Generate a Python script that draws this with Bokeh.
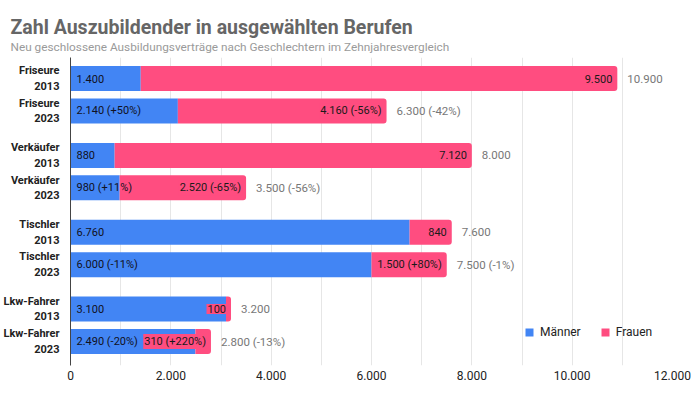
from bokeh.plotting import figure
from bokeh.models import Range1d, FixedTicker, ColumnDataSource, Title, Legend, LegendItem
from bokeh.core.properties import value
from bokeh.embed import file_html
from bokeh.resources import INLINE

jobs = ["Friseure", "Friseure", "Verkäufer", "Verkäufer", "Tischler", "Tischler", "Lkw-Fahrer", "Lkw-Fahrer"]
years = ["2013", "2023", "2013", "2023", "2013", "2023", "2013", "2023"]
men = [1400, 2140, 880, 980, 6760, 6000, 3100, 2490]
women = [9500, 4160, 7120, 2520, 840, 1500, 100, 310]
totals = [10900, 6300, 8000, 3500, 7600, 7500, 3200, 2800]
men_change = ["", "+50%", "", "+11%", "", "-11%", "", "-20%"]
women_change = ["", "-56%", "", "-65%", "", "+80%", "", "+220%"]
total_change = ["", "-42%", "", "-56%", "", "-1%", "", "-13%"]
x_ticks = [0, 2000, 4000, 6000, 8000, 10000, 12000]

BLUE = "#4285F4"
PINK = "#FF4D80"
FONT = "Roboto"
GROUP_PITCH = 2.37
Y_START, Y_END = -8.85, 0.65


def de(n):
    return f"{n:,}".replace(",", ".")


def lab(n, c):
    return de(n) + (f" ({c})" if c else "")


ys = [-((i // 2) * GROUP_PITCH + (i % 2)) for i in range(len(jobs))]

src = ColumnDataSource(dict(
    y=ys,
    men=men,
    total=totals,
    men_lab=[lab(m, c) for m, c in zip(men, men_change)],
    women_lab=[lab(w, c) for w, c in zip(women, women_change)],
    tot_lab=[lab(t, c) for t, c in zip(totals, total_change)],
))

p = figure(width=700, height=405, output_backend="svg", toolbar_location=None,
           x_range=Range1d(0, 12000), y_range=Range1d(Y_START, Y_END),
           min_border_left=69, min_border_right=28, min_border_bottom=40, min_border_top=57)
p.outline_line_color = None

r_m = p.hbar(y="y", left=0, right="men", height=0.77, source=src, fill_color=BLUE, line_color=None)
r_w = p.hbar(y="y", left="men", right="total", height=0.77, source=src, fill_color=PINK, line_color=None,
             border_radius=(0, 3, 3, 0))

p.text(x=0, y="y", text="men_lab", source=src, x_offset=6, text_align="left", text_baseline="middle",
       text_font=value(FONT), text_font_size="11px", text_color="#111122")
p.text(x="total", y="y", text="women_lab", source=src, x_offset=-4, text_align="right", text_baseline="middle",
       text_font=value(FONT), text_font_size="11px", text_color="#1a1a1a",
       background_fill_color=PINK, padding=1)
p.text(x="total", y="y", text="tot_lab", source=src, x_offset=10, text_align="left", text_baseline="middle",
       text_font=value(FONT), text_font_size="11.5px", text_color="#777777")

p.xaxis.ticker = FixedTicker(ticks=x_ticks)
p.xaxis.major_label_overrides = {t: de(t) for t in x_ticks}
p.xaxis.axis_line_color = None
p.xaxis.major_tick_line_color = None
p.xaxis.minor_tick_line_color = None
p.xaxis.major_label_text_font = FONT
p.xaxis.major_label_text_font_size = "12px"
p.xaxis.major_label_text_color = "#222222"
p.xaxis.major_label_standoff = -1

p.yaxis.ticker = FixedTicker(ticks=ys)
p.yaxis.major_label_overrides = {y: f"{j}\n{yr}" for y, j, yr in zip(ys, jobs, years)}
p.yaxis.axis_line_color = "#444444"
p.yaxis.major_tick_line_color = None
p.yaxis.minor_tick_line_color = None
p.yaxis.major_label_text_font = FONT
p.yaxis.major_label_text_font_size = "11px"
p.yaxis.major_label_text_font_style = "bold"
p.yaxis.major_label_text_color = "#222222"
p.yaxis.major_label_standoff = 5
p.yaxis.major_label_text_align = "right"

p.xgrid.ticker = FixedTicker(ticks=list(range(0, 12001, 1000)))
p.xgrid.grid_line_color = "#e6e6e6"
p.ygrid.grid_line_color = None

legend = Legend(items=[LegendItem(label="Männer", renderers=[r_m]),
                       LegendItem(label="Frauen", renderers=[r_w])],
                orientation="horizontal", location=(454, 26),
                glyph_width=10, glyph_height=10, spacing=19, padding=0, margin=0,
                label_text_font=FONT, label_text_font_size="12px", label_text_color="#222222",
                label_standoff=6, border_line_color=None, background_fill_alpha=0)
p.add_layout(legend, "center")

p.add_layout(Title(text="Neu geschlossene Ausbildungsverträge nach Geschlechtern im Zehnjahresvergleich",
                   text_font=FONT, text_font_size="11.8px", text_font_style="normal",
                   text_color="#9a9a9a", offset=-60, standoff=7), "above")
p.add_layout(Title(text="Zahl Auszubildender in ausgewählten Berufen",
                   text_font=FONT, text_font_size="19.5px", text_font_style="bold",
                   text_color="#666666", offset=-60, standoff=-8), "above")

open("out.html", "w").write(file_html(p, INLINE))
